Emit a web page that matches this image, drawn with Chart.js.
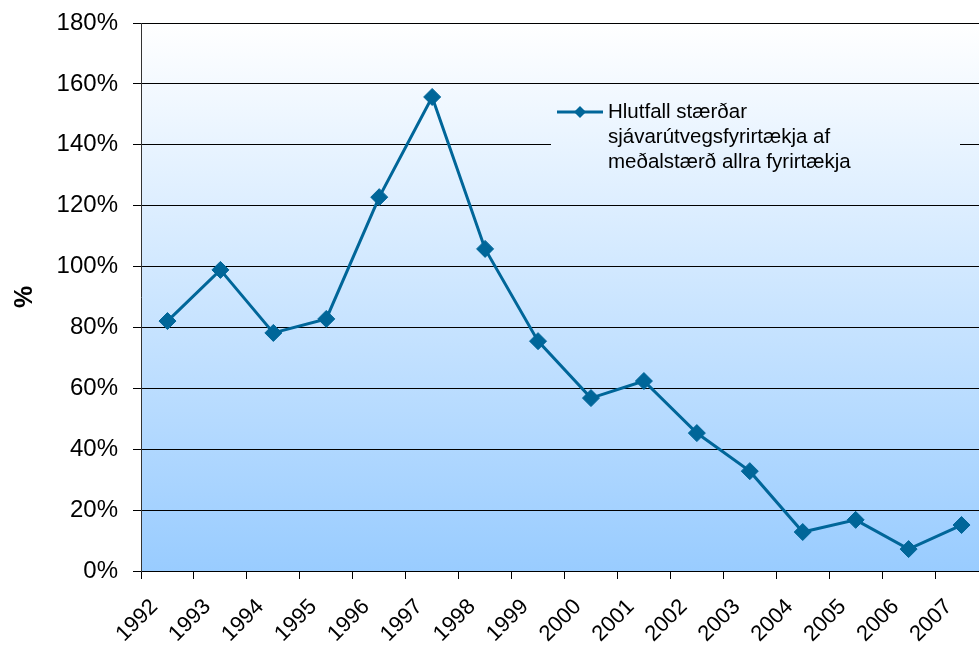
<!DOCTYPE html>
<html>
<head>
<meta charset="utf-8">
<script src="https://cdn.jsdelivr.net/npm/chart.js@4"></script>
<style>
  html, body { margin: 0; background: #fff; overflow: hidden; }
  /* the plot runs a little past the right edge, so the canvas is clipped */
  #wrap { width: 979px; height: 650px; overflow: hidden; }
  canvas { display: block; }
</style>
</head>
<body>
<div id="wrap"><canvas id="ratio-chart" width="988" height="650"></canvas></div>
<script>
// Years on the category axis
const years = ['1992', '1993', '1994', '1995', '1996', '1997', '1998', '1999',
               '2000', '2001', '2002', '2003', '2004', '2005', '2006', '2007'];

// Size of fishing companies as % of the average size of all companies
const ratioValues = [82.1, 98.9, 78.2, 82.8, 122.8, 155.7, 105.8, 75.5,
                     56.8, 62.4, 45.3, 32.8, 12.8, 16.8, 7.2, 15.1];

// Legend text, one entry per line
const legendLines = ['Hlutfall stærðar', 'sjávarútvegsfyrirtækja af', 'meðalstærð allra fyrirtækja'];

const lineColor = '#006699';
const fontFamily = '"Liberation Sans", Arial, sans-serif';

function plotGradient(ctx, area) {
    const grad = ctx.createLinearGradient(0, area.top, 0, area.bottom);
    grad.addColorStop(0, '#ffffff');
    grad.addColorStop(1, '#99ccff');
    return grad;
}

// Fills the plot area with a white-to-blue vertical gradient
const plotBackground = {
    id: 'plotBackground',
    beforeDraw(chart) {
        const { ctx, chartArea } = chart;
        ctx.save();
        ctx.fillStyle = plotGradient(ctx, chartArea);
        ctx.fillRect(chartArea.left, chartArea.top, chartArea.right - chartArea.left, chartArea.bottom - chartArea.top);
        ctx.restore();
    }
};

// Legend box drawn inside the plot, over the gridlines
const insideLegend = {
    id: 'insideLegend',
    afterDatasetsDraw(chart) {
        const { ctx, chartArea } = chart;
        const box = { x: 551, y: 88, w: 409, h: 112 };
        ctx.save();
        ctx.fillStyle = plotGradient(ctx, chartArea);
        ctx.fillRect(box.x, box.y, box.w, box.h);

        // sample line with a diamond marker
        const my = 112;
        ctx.strokeStyle = lineColor;
        ctx.lineWidth = 3;
        ctx.beginPath();
        ctx.moveTo(557, my);
        ctx.lineTo(603, my);
        ctx.stroke();
        ctx.fillStyle = lineColor;
        ctx.beginPath();
        ctx.moveTo(580, my - 6);
        ctx.lineTo(586, my);
        ctx.lineTo(580, my + 6);
        ctx.lineTo(574, my);
        ctx.closePath();
        ctx.fill();

        ctx.fillStyle = '#000';
        ctx.font = '20.5px ' + fontFamily;
        ctx.textBaseline = 'alphabetic';
        ctx.textAlign = 'left';
        legendLines.forEach((line, i) => {
            ctx.fillText(line, 608, 118 + i * 25);
        });
        ctx.restore();
    }
};

new Chart('ratio-chart', {
    type: 'line',
    data: {
        labels: years,
        datasets: [{
            label: legendLines.join(' '),
            data: ratioValues,
            borderColor: lineColor,
            backgroundColor: lineColor,
            borderWidth: 3,
            pointStyle: 'rectRot',
            pointRadius: 8.5,
            pointHoverRadius: 8.5,
            pointBorderWidth: 1,
            tension: 0,
            fill: false,
            clip: false
        }]
    },
    options: {
        responsive: false,
        animation: false,
        layout: { autoPadding: false, padding: { top: 23, right: 0, left: 0, bottom: 0 } },
        plugins: {
            legend: { display: false },
            tooltip: { enabled: false }
        },
        scales: {
            x: {
                offset: true,
                grid: {
                    offset: true,
                    drawOnChartArea: false,
                    drawTicks: true,
                    tickLength: 8,
                    color: '#000'
                },
                border: { color: '#000', width: 1 },
                ticks: {
                    maxRotation: 45,
                    minRotation: 45,
                    autoSkip: false,
                    color: '#000',
                    padding: 15,
                    labelOffset: -13,
                    font: { family: fontFamily, size: 22 }
                },
                afterFit(scale) {
                    scale.height = 79;
                    scale.paddingLeft = 0;
                    scale.paddingRight = 0;
                }
            },
            y: {
                min: 0,
                max: 180,
                ticks: {
                    stepSize: 20,
                    color: '#000',
                    padding: 15,
                    font: { family: fontFamily, size: 24 },
                    callback: v => v + '%'
                },
                grid: {
                    color: '#000',
                    lineWidth: 1,
                    drawTicks: true,
                    tickLength: 8
                },
                border: { color: '#333', width: 1 },
                title: {
                    display: true,
                    text: '%',
                    color: '#000',
                    padding: { top: 10, bottom: 0 },
                    font: { family: fontFamily, size: 25, weight: 'bold' }
                },
                afterFit(scale) {
                    scale.width = 141;
                    scale.paddingTop = 0;
                    scale.paddingBottom = 0;
                }
            }
        }
    },
    plugins: [plotBackground, insideLegend]
});
</script>
</body>
</html>
